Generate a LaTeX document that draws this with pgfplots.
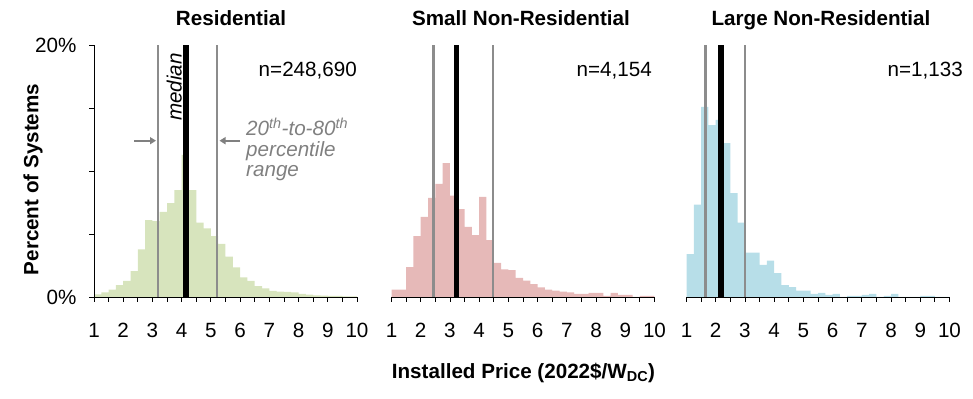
\documentclass[border=0pt]{standalone}
\usepackage{fontspec}
\setmainfont{Liberation Sans}
\usepackage{pgfplots}
\pgfplotsset{compat=1.18}
\usetikzlibrary{arrows.meta}
\definecolor{resg}{HTML}{D7E4BD}
\definecolor{smr}{HTML}{E6B9B8}
\definecolor{lgb}{HTML}{B7DEE8}
\definecolor{pgray}{HTML}{8C8C8C}
\definecolor{agray}{HTML}{808080}
\newcommand\F{\fontsize{20.7pt}{24pt}\selectfont}
\pgfplotsset{
  hist/.style={
    scale only axis, width=263bp, height=252bp, anchor=south west,
    xmin=1, xmax=10, ymin=0, ymax=20,
    axis x line*=bottom,
    xtick={1,...,10}, minor xtick={1.5,2.5,...,9.5},
    tick align=outside, major tick length=5bp, minor tick length=5bp,
    tick style={black, line width=0.8bp},
    axis line style={black, line width=0.8bp},
    /pgf/number format/assume math mode=true,
    tick label style={font=\F},
    xticklabel style={yshift=-18bp},
    axis on top,
  },
  pline/.style={pgray, line width=2.2bp, forget plot},
  mline/.style={black, line width=5.5bp, forget plot},
}
\begin{document}
\begin{tikzpicture}
\useasboundingbox (0,0) rectangle (973bp,399bp);
% Residential
\begin{axis}[hist, at={(94bp,102bp)},
  axis y line*=left, ytick={0,5,10,15,20}, yticklabels={0\%,,,,20\%},
  yticklabel style={xshift=-9bp}]
\addplot[ybar interval, fill=resg, draw=none] coordinates {
(1.00,0.21)(1.25,0.37)(1.50,0.58)(1.75,0.95)(2.00,1.27)(2.25,2.06)(2.50,3.78)(2.75,6.11)
(3.00,6.03)(3.25,6.75)(3.50,7.46)(3.75,8.49)(4.00,11.27)(4.25,8.49)(4.50,5.90)(4.75,5.45)
(5.00,4.84)(5.25,4.21)(5.50,3.20)(5.75,2.35)(6.00,1.56)(6.25,1.27)(6.50,0.87)(6.75,0.69)
(7.00,0.48)(7.25,0.42)(7.50,0.40)(7.75,0.37)(8.00,0.24)(8.25,0.19)(8.50,0.13)(8.75,0.11)
(9.00,0.08)(9.25,0.08)(9.50,0.05)(9.75,0.05)(10.00,0.05)};
\addplot[pline] coordinates {(3.19,0)(3.19,20)};
\addplot[pline] coordinates {(5.22,0)(5.22,20)};
\addplot[mline] coordinates {(4.15,0)(4.15,20)};
\end{axis}
% Small Non-Residential
\begin{axis}[hist, at={(391.5bp,102bp)}, axis y line=none]
\addplot[ybar interval, fill=smr, draw=none] coordinates {
(1.00,0.58)(1.25,0.58)(1.50,2.38)(1.75,4.84)(2.00,6.35)(2.25,7.86)(2.50,8.97)(2.75,10.63)
(3.00,8.04)(3.25,6.98)(3.50,5.56)(3.75,4.92)(4.00,7.94)(4.25,4.52)(4.50,2.70)(4.75,2.20)
(5.00,2.14)(5.25,1.51)(5.50,1.30)(5.75,1.03)(6.00,0.77)(6.25,0.58)(6.50,0.50)(6.75,0.42)
(7.00,0.37)(7.25,0.24)(7.50,0.24)(7.75,0.32)(8.00,0.32)(8.25,0.08)(8.50,0.32)(8.75,0.16)
(9.00,0.16)(9.25,0.00)(9.50,0.08)(9.75,0.08)(10.00,0.08)};
\addplot[pline] coordinates {(2.44,0)(2.44,20)};
\addplot[pline] coordinates {(4.46,0)(4.46,20)};
\addplot[mline] coordinates {(3.22,0)(3.22,20)};
\end{axis}
% Large Non-Residential
\begin{axis}[hist, at={(686.5bp,102bp)}, axis y line=none]
\addplot[ybar interval, fill=lgb, draw=none] coordinates {
(1.00,3.41)(1.25,7.33)(1.50,15.08)(1.75,13.65)(2.00,14.05)(2.25,12.22)(2.50,8.25)(2.75,5.90)
(3.00,3.52)(3.25,3.52)(3.50,2.54)(3.75,2.88)(4.00,1.90)(4.25,0.95)(4.50,0.79)(4.75,0.50)
(5.00,0.50)(5.25,0.24)(5.50,0.32)(5.75,0.16)(6.00,0.24)(6.25,0.00)(6.50,0.08)(6.75,0.08)
(7.00,0.16)(7.25,0.24)(7.50,0.00)(7.75,0.08)(8.00,0.24)(8.25,0.00)(8.50,0.00)(8.75,0.00)
(9.00,0.08)(9.25,0.08)(9.50,0.00)(9.75,0.00)(10.00,0.00)};
\addplot[pline] coordinates {(1.65,0)(1.65,20)};
\addplot[pline] coordinates {(3.00,0)(3.00,20)};
\addplot[mline] coordinates {(2.18,0)(2.18,20)};
\end{axis}
% titles
\node[anchor=base, font=\F\bfseries] at (231bp,373bp) {Residential};
\node[anchor=base, font=\F\bfseries] at (521bp,373bp) {Small Non-Residential};
\node[anchor=base, font=\F\bfseries] at (821bp,373bp) {Large Non-Residential};
% n labels
\node[anchor=base east, font=\F, inner sep=0pt] at (357bp,322bp) {n=248,690};
\node[anchor=base east, font=\F, inner sep=0pt] at (652bp,322bp) {n=4,154};
\node[anchor=base east, font=\F, inner sep=0pt] at (963bp,322bp) {n=1,133};
% axis labels
\node[rotate=90, font=\F\bfseries] at (33bp,219.5bp) {Percent of Systems};
\node[anchor=base, font=\F\bfseries] at (523.5bp,21bp) {Installed Price (2022\$/W\textsubscript{DC})};
% annotations
\node[rotate=90, anchor=base west, font=\F\itshape, inner sep=0pt] at (181.5bp,278bp) {median};
\draw[agray, line width=1.8bp, -{Triangle[length=6bp,width=7bp]}] (134bp,258.3bp) -- (156bp,258.3bp);
\draw[agray, line width=1.8bp, -{Triangle[length=6bp,width=7bp]}] (240bp,258.3bp) -- (219.5bp,258.3bp);
\node[anchor=base west, font=\F\itshape, text=agray, inner sep=0pt] at (246bp,263bp) {20\textsuperscript{th}-to-80\textsuperscript{th}};
\node[anchor=base west, font=\F\itshape, text=agray, inner sep=0pt] at (246bp,242.5bp) {percentile};
\node[anchor=base west, font=\F\itshape, text=agray, inner sep=0pt] at (246bp,222.5bp) {range};
\end{tikzpicture}
\end{document}
